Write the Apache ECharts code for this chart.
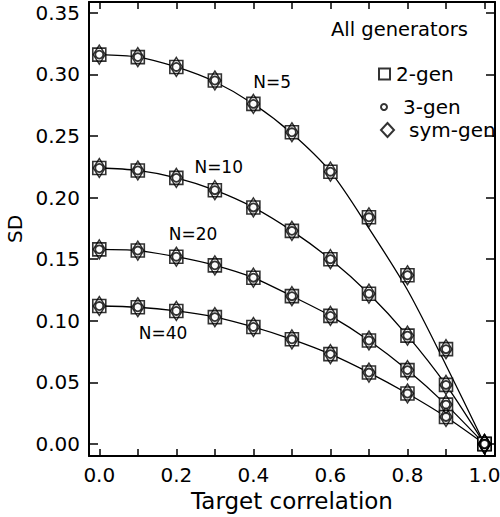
<!DOCTYPE html>
<html><head><meta charset="utf-8">
<script src="https://cdn.jsdelivr.net/npm/echarts@6/dist/echarts.min.js"></script>
<style>html,body{margin:0;padding:0;background:#fff}#c{width:500px;height:517px}</style>
</head><body><div id="c"></div>
<script>
// ---- data ----
const correlation = [0.0, 0.1, 0.2, 0.3, 0.4, 0.5, 0.6, 0.7, 0.8, 0.9, 1.0];
const generators = ['2-gen', '3-gen', 'sym-gen'];
const sampleSizes = ['N=5', 'N=10', 'N=20', 'N=40'];
// simulated SD (the three generators coincide within reading precision)
const sdN5  = [0.316, 0.314, 0.306, 0.295, 0.276, 0.253, 0.221, 0.184, 0.137, 0.077, 0.000];
const sdN10 = [0.224, 0.222, 0.216, 0.206, 0.192, 0.173, 0.150, 0.122, 0.088, 0.048, 0.000];
const sdN20 = [0.158, 0.157, 0.152, 0.145, 0.135, 0.120, 0.104, 0.084, 0.060, 0.032, 0.000];
const sdN40 = [0.112, 0.111, 0.108, 0.103, 0.095, 0.085, 0.073, 0.058, 0.041, 0.022, 0.000];
// theoretical curves
const curveN5  = [0.316, 0.314, 0.306, 0.294, 0.276, 0.252, 0.221, 0.175, 0.125, 0.064, 0.000];
const curveN10 = [0.224, 0.222, 0.216, 0.206, 0.192, 0.173, 0.150, 0.122, 0.088, 0.048, 0.000];
const curveN20 = [0.158, 0.157, 0.152, 0.145, 0.135, 0.120, 0.104, 0.084, 0.060, 0.032, 0.000];
const curveN40 = [0.112, 0.111, 0.108, 0.103, 0.095, 0.085, 0.073, 0.058, 0.041, 0.022, 0.000];
// ticks
const xTickValues = [0.0, 0.1, 0.2, 0.3, 0.4, 0.5, 0.6, 0.7, 0.8, 0.9, 1.0];
const xLabelValues = [0.0, 0.2, 0.4, 0.6, 0.8, 1.0];
const yTickValues = [0.00, 0.05, 0.10, 0.15, 0.20, 0.25, 0.30, 0.35];

// ---- chart ----
const FONT = 'DejaVu Sans';
const sdSets = [sdN5, sdN10, sdN20, sdN40];
const curveSets = [curveN5, curveN10, curveN20, curveN40];
const labelAnchors = [[0.449, 0.294], [0.310, 0.2248], [0.2434, 0.1703], [0.1657, 0.0905]];

const pairs = arr => correlation.map((x, i) => [x, arr[i]]);
const allPoints = () => sdSets.flatMap(pairs);

const XMIN = -0.0267, XMAX = 1.0272, YMIN = -0.0097, YMAX = 0.3587;
const lineStyleAxis = {color: '#000', width: 2};
function xAx(pos, withLabels) {
  return {
    type: 'value', position: pos, min: XMIN, max: XMAX,
    axisLine: {show: true, onZero: false, lineStyle: lineStyleAxis},
    axisTick: {show: true, inside: true, length: 7, customValues: xTickValues, lineStyle: {color: '#000', width: 1.5}},
    axisLabel: withLabels ? {show: true, customValues: xLabelValues, formatter: v => v.toFixed(1), margin: 9, fontSize: 20, color: '#000', fontFamily: FONT} : {show: false},
    splitLine: {show: false},
    name: withLabels ? 'Target correlation' : '', nameLocation: 'middle', nameGap: 25,
    nameTextStyle: {fontSize: 23, color: '#000', fontFamily: FONT}
  };
}
function yAx(pos, withLabels) {
  return {
    type: 'value', position: pos, min: YMIN, max: YMAX,
    axisLine: {show: true, onZero: false, lineStyle: lineStyleAxis},
    axisTick: {show: true, inside: true, length: 9, customValues: yTickValues, lineStyle: {color: '#000', width: 1.5}},
    axisLabel: withLabels ? {show: true, customValues: yTickValues, formatter: v => v.toFixed(2), margin: 9, fontSize: 20, color: '#000', fontFamily: FONT} : {show: false},
    splitLine: {show: false},
    name: withLabels ? 'SD' : '', nameLocation: 'middle', nameGap: 64,
    nameTextStyle: {fontSize: 20, color: '#000', fontFamily: FONT}
  };
}

const series = [];
curveSets.forEach((c, k) => {
  series.push({
    type: 'line', name: sampleSizes[k], data: pairs(c), smooth: 0.3,
    symbol: 'none', showSymbol: false, silent: true, z: 2,
    lineStyle: {color: '#000', width: 1.3},
    markPoint: {
      symbol: 'circle', symbolSize: 1, itemStyle: {color: 'rgba(0,0,0,0)'}, silent: true,
      label: {show: true, position: 'inside', formatter: sampleSizes[k], fontSize: 17, color: '#000', fontFamily: FONT},
      data: [{coord: labelAnchors[k]}]
    }
  });
});
series.push({
  type: 'scatter', name: generators[0], data: allPoints(), symbol: 'rect', symbolSize: 13, z: 3,
  itemStyle: {color: '#fff', borderColor: '#000', borderWidth: 1.6}
});
series.push({
  type: 'scatter', name: generators[2], data: allPoints(), symbol: 'diamond', symbolSize: [12, 19], z: 4,
  itemStyle: {color: 'rgba(255,255,255,0)', borderColor: '#000', borderWidth: 1.5}
});
series.push({
  type: 'scatter', name: generators[1], data: allPoints(), symbol: 'circle', symbolSize: 8, z: 5,
  itemStyle: {color: '#fff', borderColor: '#000', borderWidth: 1.8}
});

const legendText = {fontSize: 20, color: '#000', fontFamily: FONT};
const option = {
  backgroundColor: '#fff',
  animation: false,
  title: {text: 'All generators', left: 331, top: 19, padding: 0,
    textStyle: {fontSize: 19.5, fontWeight: 'normal', color: '#000', fontFamily: FONT}},
  grid: {left: 89, right: 5, top: 2, bottom: 61, containLabel: false, outerBoundsMode: 'none'},
  xAxis: [xAx('bottom', true), xAx('top', false)],
  yAxis: [yAx('left', true), yAx('right', false)],
  legend: [
    {data: [{name: generators[0], icon: 'rect'}], left: 378, top: 64, padding: 0, itemWidth: 11, itemHeight: 11,
      selectedMode: false, textStyle: Object.assign({padding: [0, 0, 0, 1]}, legendText)},
    {data: [{name: generators[1], icon: 'circle'}], left: 380, top: 97, padding: 0, itemWidth: 6, itemHeight: 6,
      selectedMode: false, textStyle: Object.assign({padding: [0, 0, 0, 11]}, legendText)},
    {data: [{name: generators[2], icon: 'diamond'}], left: 380, top: 120, padding: 0, itemWidth: 13, itemHeight: 14,
      selectedMode: false, textStyle: Object.assign({padding: [0, 0, 0, 10]}, legendText)}
  ],
  series: series
};
const chart = echarts.init(document.getElementById('c'), null, {renderer: 'svg'});
chart.setOption(option);
</script></body></html>
